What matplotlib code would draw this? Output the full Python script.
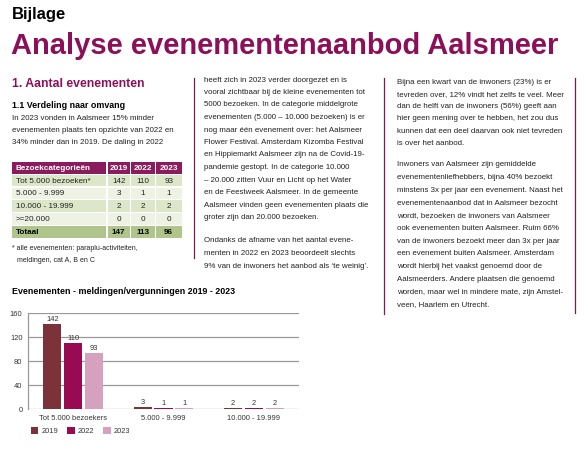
import matplotlib.pyplot as plt
import numpy as np
from matplotlib.patches import Rectangle
from matplotlib.lines import Line2D

plt.rcParams['font.family'] = ['Liberation Sans', 'DejaVu Sans']

W, H = 586, 454

# table data
table_header = ['Bezoekcategorieën', '2019', '2022', '2023']
table_rows = ['Tot 5.000 bezoeken*', '5.000 - 9.999', '10.000 - 19.999', '>=20.000']
v2019 = [142, 3, 2, 0]
v2022 = [110, 1, 2, 0]
v2023 = [93, 1, 2, 0]
totals = [147, 113, 96]

# chart data
chart_cats = ['Tot 5.000 bezoekers', '5.000 - 9.999', '10.000 - 19.999']
years = ['2019', '2022', '2023']
chart_vals = [[142, 3, 2], [110, 1, 2], [93, 1, 2]]
year_colors = ['#7b3339', '#990a55', '#d5a1bf']

col1_text = ['In 2023 vonden in Aalsmeer 15% minder',
             'evenementen plaats ten opzichte van 2022 en',
             '34% minder dan in 2019. De daling in 2022']
col2_par1 = ['heeft zich in 2023 verder doorgezet en is',
             'vooral zichtbaar bij de kleine evenementen tot',
             '5000 bezoeken. In de categorie middelgrote',
             'evenementen (5.000 – 10.000 bezoeken) is er',
             'nog maar één evenement over: het Aalsmeer',
             'Flower Festival. Amsterdam Kizomba Festival',
             'en Hippiemarkt Aalsmeer zijn na de Covid-19-',
             'pandemie gestopt. In de categorie 10.000',
             '– 20.000 zitten Vuur en Licht op het Water',
             'en de Feestweek Aalsmeer. In de gemeente',
             'Aalsmeer vinden geen evenementen plaats die',
             'groter zijn dan 20.000 bezoeken.']
col2_par2 = ['Ondanks de afname van het aantal evene-',
             'menten in 2022 en 2023 beoordeelt slechts',
             '9% van de inwoners het aanbod als ‘te weinig’.']
col3_par1 = ['Bijna een kwart van de inwoners (23%) is er',
             'tevreden over, 12% vindt het zelfs te veel. Meer',
             'dan de helft van de inwoners (56%) geeft aan',
             'hier geen mening over te hebben, het zou dus',
             'kunnen dat een deel daarvan ook niet tevreden',
             'is over het aanbod.']
col3_par2 = ['Inwoners van Aalsmeer zijn gemiddelde',
             'evenementenliefhebbers, bijna 40% bezoekt',
             'minstens 3x per jaar een evenement. Naast het',
             'evenementenaanbod dat in Aalsmeer bezocht',
             'wordt, bezoeken de inwoners van Aalsmeer',
             'ook evenementen buiten Aalsmeer. Ruim 66%',
             'van de inwoners bezoekt meer dan 3x per jaar',
             'een evenement buiten Aalsmeer. Amsterdam',
             'wordt hierbij het vaakst genoemd door de',
             'Aalsmeerders. Andere plaatsen die genoemd',
             'worden, maar wel in mindere mate, zijn Amstel-',
             'veen, Haarlem en Utrecht.']

purple = '#8c1059'
text_col = '#222222'
body_fs = 5.7

fig = plt.figure(figsize=(W / 100, H / 100), dpi=100)


def fx(x):
    return x / W


def fy(y):
    return 1 - y / H


def ptext(x, y, s, **kw):
    kw.setdefault('va', 'center')
    fig.text(fx(x), fy(y), s, **kw)


def lines(x, y0, step, rows, **kw):
    for i, s in enumerate(rows):
        ptext(x, y0 + i * step, s, fontsize=body_fs, color=text_col, **kw)


# headings
ptext(12, 15, 'Bijlage', fontsize=12, fontweight='bold', color='black')
ptext(11, 46, 'Analyse evenementenaanbod Aalsmeer', fontsize=21, fontweight='bold', color=purple)
ptext(12, 84, '1. Aantal evenementen', fontsize=8.8, fontweight='bold', color=purple)
ptext(12, 106, '1.1 Verdeling naar omvang', fontsize=6.4, fontweight='bold', color='black')

lines(12, 118, 12.5, col1_text)
lines(204, 80, 12.5, col2_par1)
lines(204, 241, 12.5, col2_par2)
lines(397, 82, 12.3, col3_par1)
lines(397, 165, 12.7, col3_par2)

ptext(12, 248, '* alle evenementen: paraplu-activiteiten,', fontsize=5.0, color=text_col)
ptext(17, 260, 'meldingen, cat A, B en C', fontsize=5.0, color=text_col)

# column separators
for x, y0, y1 in [(194, 78, 258), (384, 78, 314), (575, 78, 313)]:
    fig.add_artist(Line2D([fx(x), fx(x)], [fy(y0), fy(y1)], color='#7d1a55', lw=0.9,
                          transform=fig.transFigure))

# table
col_x = [12, 107.5, 131, 155.5]
col_w = [94, 22.5, 23.5, 26.5]
row_top = 162
row_h = 12.8
row_colors = ['#dde6c9', '#eef2e2']


def cell(ci, ri, bg, s, **kw):
    x0 = col_x[ci]
    y0 = row_top + ri * row_h
    fig.add_artist(Rectangle((fx(x0), fy(y0 + row_h - 1.2)), col_w[ci] / W, (row_h - 1.2) / H,
                             facecolor=bg, edgecolor='none', transform=fig.transFigure))
    yc = y0 + (row_h - 1.2) / 2 + 0.5
    if ci == 0:
        ptext(x0 + 4, yc, s, fontsize=5.9, **kw)
    else:
        ptext(x0 + col_w[ci] / 2, yc, s, fontsize=5.9, ha='center', **kw)


for ci, h in enumerate(table_header):
    cell(ci, 0, '#8a1b5c', h, color='white', fontweight='bold')
for ri, name in enumerate(table_rows):
    c = row_colors[ri % 2]
    cell(0, ri + 1, c, name, color=text_col)
    for ci, vals in enumerate([v2019, v2022, v2023]):
        cell(ci + 1, ri + 1, c, str(vals[ri]), color=text_col)
cell(0, 5, '#b0c58c', 'Totaal', color='black', fontweight='bold')
for ci, t in enumerate(totals):
    cell(ci + 1, 5, '#b0c58c', str(t), color='black', fontweight='bold')

# chart
ptext(12, 292, 'Evenementen - meldingen/vergunningen 2019 - 2023', fontsize=6.4,
      fontweight='bold', color='black')

ax = fig.add_axes([fx(28), fy(409), 271 / W, 96 / H])
x = np.arange(len(chart_cats))
offsets = [-0.23, 0, 0.23]
for yr, vals, col, off in zip(years, chart_vals, year_colors, offsets):
    bars = ax.bar(x + off, vals, width=0.2, color=col, label=yr, zorder=3)
    for b, v in zip(bars, vals):
        ax.text(b.get_x() + b.get_width() / 2, v + 2, str(v), ha='center', va='bottom',
                fontsize=5.4, color='#333333')

ax.set_xlim(-0.5, 2.5)
ax.set_ylim(0, 160)
ax.set_yticks([0, 40, 80, 120, 160])
ax.set_xticks(x)
ax.set_xticklabels(chart_cats)
ax.tick_params(axis='both', length=0, labelsize=5.4, labelcolor='#333333', pad=4)
ax.grid(axis='y', color='#999999', lw=0.9, zorder=0)
for s in ['top', 'right', 'bottom']:
    ax.spines[s].set_visible(False)
ax.spines['left'].set_color('#999999')
ax.spines['left'].set_linewidth(0.9)
ax.set_facecolor('none')

ax.legend(loc='center left', bbox_to_anchor=(fx(24), fy(431)), bbox_transform=fig.transFigure,
          ncol=3, frameon=False, fontsize=5.4, handlelength=1.0, handleheight=1.0,
          handletextpad=0.4, columnspacing=1.2, labelcolor='#333333')

fig.savefig('out.png', dpi=100)
